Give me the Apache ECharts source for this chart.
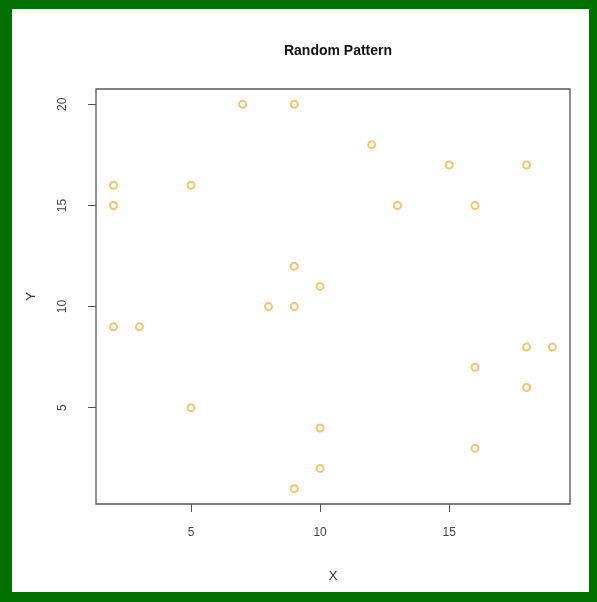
<!DOCTYPE html>
<html>
<head>
<meta charset="utf-8">
<script src="https://cdn.jsdelivr.net/npm/echarts@6/dist/echarts.min.js"></script>
<style>
html,body{margin:0;padding:0;background:#007000;}
#c{width:597px;height:602px;}
</style>
</head>
<body>
<div id="c"></div>
<script>
const xValues = [2, 2, 5, 7, 9, 12, 15, 18, 13, 16, 9, 10, 8, 9, 2, 3, 18, 19, 16, 18, 5, 10, 16, 10, 9];
const yValues = [16, 15, 16, 20, 20, 18, 17, 17, 15, 15, 12, 11, 10, 10, 9, 9, 8, 8, 7, 6, 5, 4, 3, 2, 1];
const xTicks = [5, 10, 15];
const yTicks = [5, 10, 15, 20];
const titleText = 'Random Pattern';
const xName = 'X';
const yName = 'Y';

const pts = xValues.map((x, i) => [x, yValues[i]]);
function padRange(arr) {
  const mn = Math.min(...arr), mx = Math.max(...arr);
  const d = (mx - mn) * 0.04;
  return [mn - d, mx + d];
}
const xr = padRange(xValues), yr = padRange(yValues);
const font = 'Liberation Sans, Arial, sans-serif';
const chart = echarts.init(document.getElementById('c'));
chart.setOption({
  backgroundColor: '#007000',
  animation: false,
  graphic: [{
    type: 'rect', shape: {x: 12, y: 9, width: 577, height: 583},
    style: {fill: '#ffffff'}, z: -10
  }],
  title: {
    text: titleText, left: 333, top: 39, textAlign: 'center',
    textStyle: {fontFamily: font, fontSize: 14, fontWeight: 'bold', color: '#111'}
  },
  grid: {left: 96, top: 89, width: 474, height: 415, show: true, borderColor: '#555', borderWidth: 1.3, backgroundColor: 'transparent'},
  xAxis: {
    type: 'value', min: xr[0], max: xr[1],
    name: xName, nameLocation: 'middle', nameGap: 66,
    nameTextStyle: {fontFamily: font, fontSize: 13, color: '#333'},
    axisLine: {show: false},
    splitLine: {show: false},
    axisTick: {show: true, length: 8, lineStyle: {color: '#555'}, customValues: xTicks},
    axisLabel: {fontFamily: font, fontSize: 12, color: '#444', margin: 23, customValues: xTicks}
  },
  yAxis: {
    type: 'value', min: yr[0], max: yr[1],
    name: yName, nameLocation: 'middle', nameGap: 58, nameRotate: 90,
    nameTextStyle: {fontFamily: font, fontSize: 13, color: '#333'},
    axisLine: {show: false},
    splitLine: {show: false},
    axisTick: {show: true, length: 8, lineStyle: {color: '#555'}, customValues: yTicks},
    axisLabel: {fontFamily: font, fontSize: 12, color: '#444', margin: 27, rotate: 90, customValues: yTicks}
  },
  series: [{
    type: 'scatter',
    data: pts,
    symbol: 'emptyCircle',
    symbolSize: 7,
    itemStyle: {color: '#F9B657', borderColor: '#F9B657', borderWidth: 1, opacity: 0.85}
  }]
});
</script>
</body>
</html>
